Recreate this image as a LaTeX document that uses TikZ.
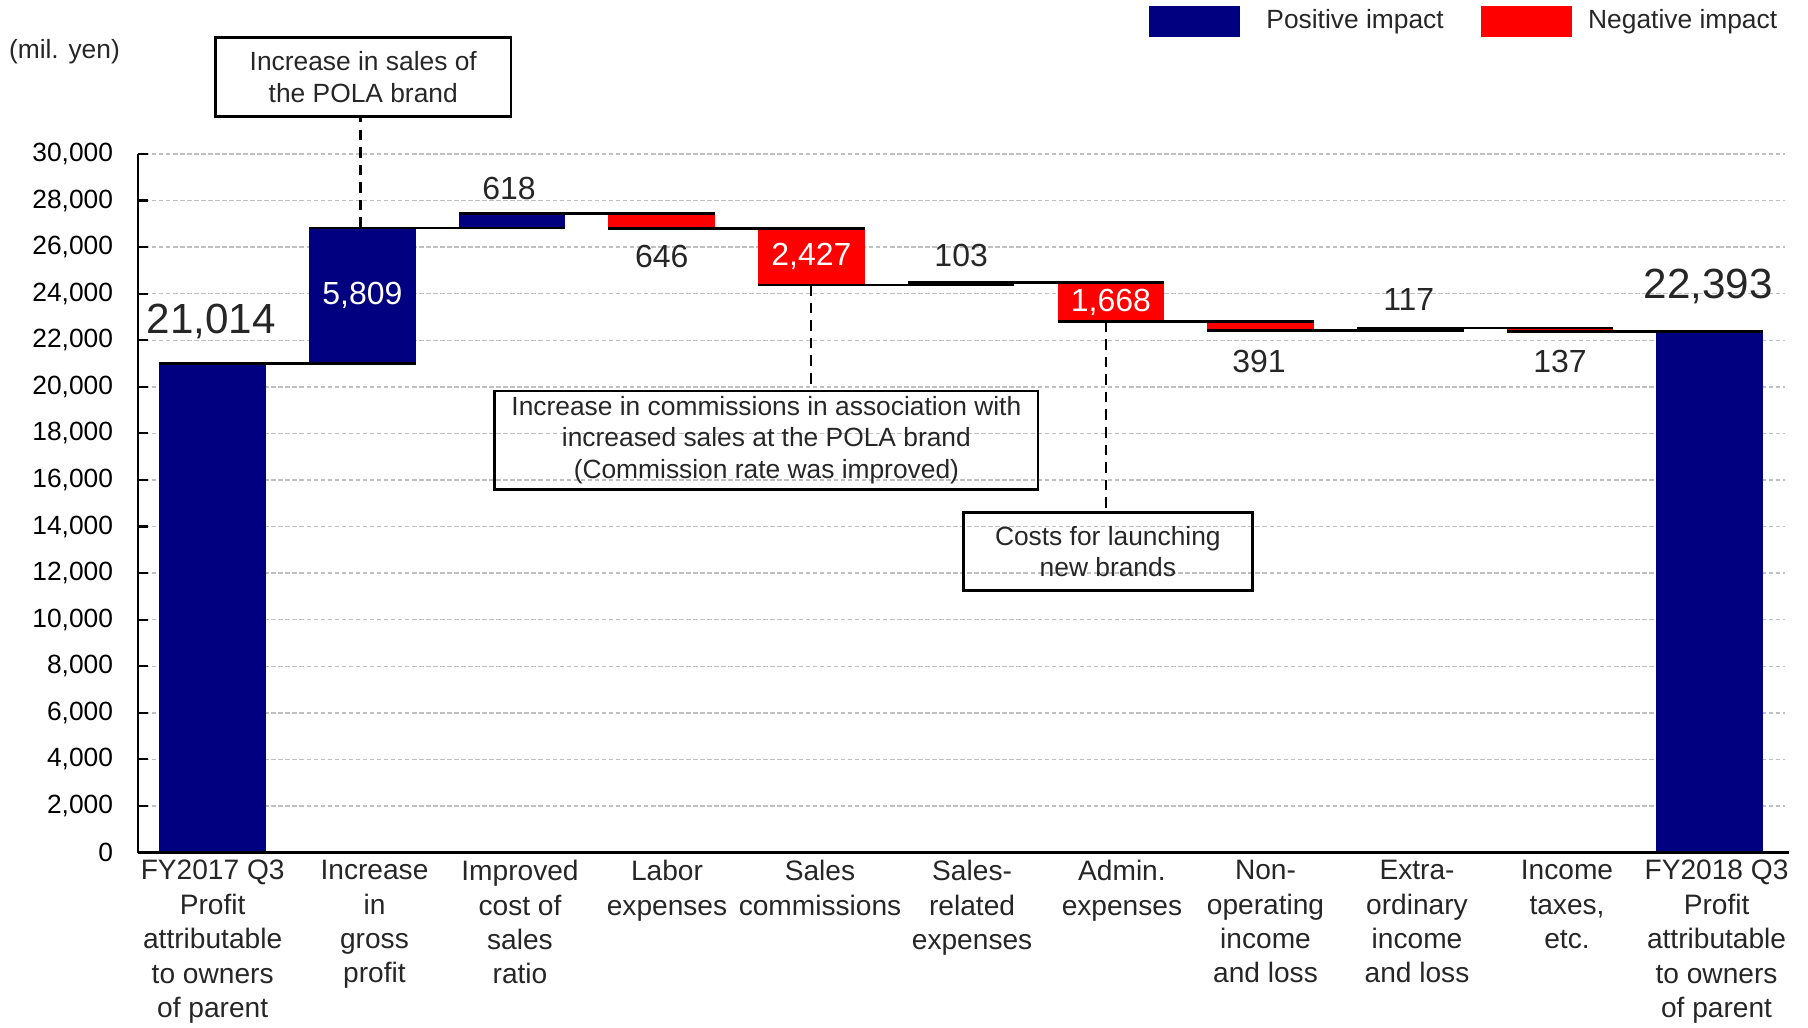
\documentclass[tikz,border=0pt]{standalone}
\usepackage{fontspec}
\setmainfont{Liberation Sans}
\usetikzlibrary{positioning, math}
\definecolor{posblue}{RGB}{0,0,128}
\definecolor{negred}{RGB}{255,0,0}
\definecolor{gridgray}{RGB}{192,192,192}
\definecolor{labelgray}{RGB}{38,38,38}
\tikzset{
gridline/.style={gridgray, line width=0.4pt, dash pattern=on 1.3pt off 0.7pt},
ticklabel/.style={anchor=east, inner sep=0, font=\fontsize{7.5}{9}\selectfont},
catlabel/.style={anchor=north, align=center, inner sep=0, yshift=-0.07cm, text=labelgray, font=\fontsize{8}{9.8}\selectfont},
posbar/.style={fill=posblue},
negbar/.style={fill=negred},
level/.style={line width=0.8pt},
value/.style={inner sep=0, text=labelgray, font=\fontsize{9.1}{11}\selectfont},
inbar/.style={value, text=white},
total/.style={inner sep=0, text=labelgray, font=\fontsize{12}{14}\selectfont},
callout/.style={draw, line width=0.8pt, align=center, inner sep=0, text=labelgray, font=\fontsize{7.5}{9}\selectfont},
leader/.style={line width=0.8pt, dash pattern=on 3pt off 2pt},
swatch/.style={minimum width=0.91cm, minimum height=0.307cm, inner sep=0},
legendtext/.style={inner sep=0, text=labelgray, font=\fontsize{7.5}{9}\selectfont},
}

\begin{document}
\begin{tikzpicture}[x=1.497cm, y=0.23285cm]
    \tikzmath{ \bw = 0.356; };  % half width of a bar

    \useasboundingbox (-1.378cm,-1.745cm) rectangle (16.702cm,8.525cm);

    %grid lines
    \draw[gridline] (0,2) -- (11,2);
    \draw[gridline] (0,4) -- (11,4);
    \draw[gridline] (0,6) -- (11,6);
    \draw[gridline] (0,8) -- (11,8);
    \draw[gridline] (0,10) -- (11,10);
    \draw[gridline] (0,12) -- (11,12);
    \draw[gridline] (0,14) -- (11,14);
    \draw[gridline] (0,16) -- (11,16);
    \draw[gridline] (0,18) -- (11,18);
    \draw[gridline] (0,20) -- (11,20);
    \draw[gridline] (0,22) -- (11,22);
    \draw[gridline] (0,24) -- (11,24);
    \draw[gridline] (0,26) -- (11,26);
    \draw[gridline] (0,28) -- (11,28);
    \draw[gridline] (0,30) -- (11,30);

    %tick labels
    \node[ticklabel] (t0)  at (-0.161,0)  {0};
    \node[ticklabel] (t2)  at (-0.161,2)  {2,000};
    \node[ticklabel] (t4)  at (-0.161,4)  {4,000};
    \node[ticklabel] (t6)  at (-0.161,6)  {6,000};
    \node[ticklabel] (t8)  at (-0.161,8)  {8,000};
    \node[ticklabel] (t10) at (-0.161,10) {10,000};
    \node[ticklabel] (t12) at (-0.161,12) {12,000};
    \node[ticklabel] (t14) at (-0.161,14) {14,000};
    \node[ticklabel] (t16) at (-0.161,16) {16,000};
    \node[ticklabel] (t18) at (-0.161,18) {18,000};
    \node[ticklabel] (t20) at (-0.161,20) {20,000};
    \node[ticklabel] (t22) at (-0.161,22) {22,000};
    \node[ticklabel] (t24) at (-0.161,24) {24,000};
    \node[ticklabel] (t26) at (-0.161,26) {26,000};
    \node[ticklabel] (t28) at (-0.161,28) {28,000};
    \node[ticklabel] (t30) at (-0.161,30) {30,000};
    \node[legendtext] (unit) at (-0.490,34.38) {(mil. yen)};

    %bars
    \fill[posbar] (0.5-\bw,0)      rectangle (0.5+\bw,21.014);
    \fill[posbar] (1.5-\bw,21.014) rectangle (1.5+\bw,26.823);
    \fill[posbar] (2.5-\bw,26.823) rectangle (2.5+\bw,27.441);
    \fill[negbar] (3.5-\bw,27.441) rectangle (3.5+\bw,26.795);
    \fill[negbar] (4.5-\bw,26.795) rectangle (4.5+\bw,24.368);
    \fill[posbar] (5.5-\bw,24.368) rectangle (5.5+\bw,24.471);
    \fill[negbar] (6.5-\bw,24.471) rectangle (6.5+\bw,22.803);
    \fill[negbar] (7.5-\bw,22.803) rectangle (7.5+\bw,22.412);
    \fill[posbar] (8.5-\bw,22.412) rectangle (8.5+\bw,22.529);
    \fill[negbar] (9.5-\bw,22.529) rectangle (9.5+\bw,22.392);
    \fill[posbar] (10.5-\bw,0)     rectangle (10.5+\bw,22.393);

    %level lines
    \draw[level] (0.5-\bw,21.014) -- (1.5+\bw,21.014);
    \draw[level] (1.5-\bw,26.823) -- (2.5+\bw,26.823);
    \draw[level] (2.5-\bw,27.441) -- (3.5+\bw,27.441);
    \draw[level] (3.5-\bw,26.795) -- (4.5+\bw,26.795);
    \draw[level] (4.5-\bw,24.368) -- (5.5+\bw,24.368);
    \draw[level] (5.5-\bw,24.471) -- (6.5+\bw,24.471);
    \draw[level] (6.5-\bw,22.803) -- (7.5+\bw,22.803);
    \draw[level] (7.5-\bw,22.412) -- (8.5+\bw,22.412);
    \draw[level] (8.5-\bw,22.529) -- (9.5+\bw,22.529);
    \draw[level] (9.5-\bw,22.392) -- (10.5+\bw,22.392);

    %axes
    \draw[line width=0.6pt] (0,0) -- (0,30);
    \draw[line width=0.6pt] (0,2) -- ++(0.1cm,0) (0,4) -- ++(0.1cm,0) (0,6) -- ++(0.1cm,0)
        (0,8) -- ++(0.1cm,0) (0,10) -- ++(0.1cm,0) (0,12) -- ++(0.1cm,0) (0,14) -- ++(0.1cm,0)
        (0,16) -- ++(0.1cm,0) (0,18) -- ++(0.1cm,0) (0,20) -- ++(0.1cm,0) (0,22) -- ++(0.1cm,0)
        (0,24) -- ++(0.1cm,0) (0,26) -- ++(0.1cm,0) (0,28) -- ++(0.1cm,0) (0,30) -- ++(0.1cm,0);
    \draw[line width=0.9pt] (0,0) -- (11.03,0);

    %values
    \node[total] (v1)  at (0.49,22.80)  {21,014};
    \node[inbar] (v2)  at (1.5,23.92)   {5,809};
    \node[value] (v3)  at (2.48,28.52)  {618};
    \node[value] (v4)  at (3.5,25.59)   {646};
    \node[inbar] (v5)  at (4.5,25.58)   {2,427};
    \node[value] (v6)  at (5.5,25.66)   {103};
    \node[inbar] (v7)  at (6.5,23.64)   {1,668};
    \node[value] (v8)  at (7.49,21.08)  {391};
    \node[value] (v9)  at (8.49,23.73)  {117};
    \node[value] (v10) at (9.5,21.08)   {137};
    \node[total] (v11) at (10.49,24.30) {22,393};

    %categories
    \node[catlabel] (c1)  at (0.5,0)    {FY2017 Q3\\Profit\\attributable\\to owners\\of parent};
    \node[catlabel] (c2)  at (1.581,0)  {Increase\\in\\gross\\profit};
    \node[catlabel] (c3)  at (2.553,0)  {Improved\\cost of\\sales\\ratio};
    \node[catlabel] (c4)  at (3.535,0)  {Labor\\expenses};
    \node[catlabel] (c5)  at (4.557,0)  {Sales\\commissions};
    \node[catlabel] (c6)  at (5.573,0)  {Sales-\\related\\expenses};
    \node[catlabel] (c7)  at (6.574,0)  {Admin.\\expenses};
    \node[catlabel] (c8)  at (7.533,0)  {Non-\\operating\\income\\and loss};
    \node[catlabel] (c9)  at (8.545,0)  {Extra-\\ordinary\\income\\and loss};
    \node[catlabel] (c10) at (9.547,0)  {Income\\taxes,\\etc.};
    \node[catlabel] (c11) at (10.546,0) {FY2018 Q3\\Profit\\attributable\\to owners\\of parent};

    %callouts
    \coordinate (top2) at (1.485,26.823);
    \coordinate (bot5) at (4.497,24.368);
    \coordinate (bot7) at (6.468,22.803);
    \node[callout, minimum width=2.955cm, minimum height=0.79cm] (note1) at (1.506,33.31)
        {Increase in sales of\\the POLA brand};
    \node[callout, minimum width=5.432cm, minimum height=0.983cm] (note2) at (4.199,17.71)
        {Increase in commissions in association with\\increased sales at the POLA brand\\(Commission rate was improved)};
    \node[callout, minimum width=2.89cm, minimum height=0.784cm] (note3) at (6.48,12.93)
        {Costs for launching\\new brands};
    \draw[leader] (top2) -- (top2 |- note1.south);
    \draw[leader] (bot5) -- (bot5 |- note2.north);
    \draw[leader] (bot7) -- (bot7 |- note3.north);

    %legend
    \node[swatch, fill=posblue] (posbox) at (7.059,35.69) { };
    \node[legendtext, right=0.25cm of posbox] (postext) {Positive impact};
    \node[swatch, fill=negred] (negbox) at (9.275,35.69) { };
    \node[legendtext, right=0.15cm of negbox] (negtext) {Negative impact};

\end{tikzpicture}
\end{document}
